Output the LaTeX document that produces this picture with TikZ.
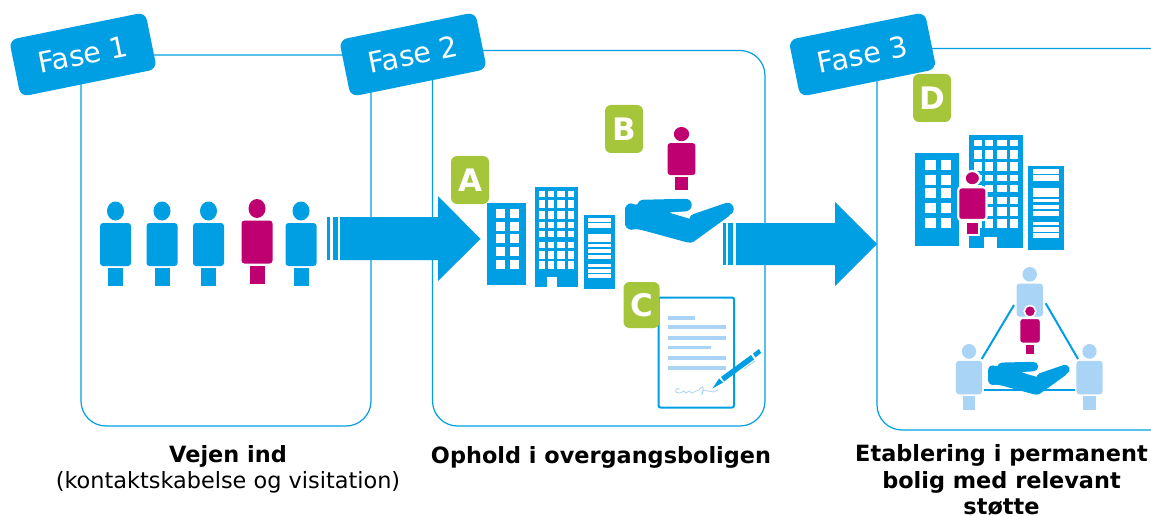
\documentclass[tikz,border=0pt]{standalone}
\usepackage{fontspec}
\setmainfont{DejaVu Sans}
\definecolor{cblue}{HTML}{009FE3}
\definecolor{cmag}{HTML}{BE0071}
\definecolor{cgreen}{HTML}{A5C63B}
\definecolor{clight}{HTML}{AAD4F5}
\tikzset{
  framebox/.style={draw=cblue,line width=1.2pt,rounded corners=25pt},
  fasetag/.style={fill=cblue,text=white,rounded corners=8pt,rotate=11.5,minimum width=139pt,minimum height=58pt,inner sep=0pt,font=\fontsize{28.6}{28.6}\selectfont},
  badge/.style={fill=cgreen,text=white,rounded corners=6pt,inner sep=0pt,font=\bfseries\fontsize{31}{31}\selectfont},
  caption/.style={align=center,font=\fontsize{22.4}{26}\selectfont},
  blockarrow/.style={fill=cblue},
  linkline/.style={draw=cblue,line width=2pt},
  docline/.style={fill=clight},
  plainfig/.style={},
  haloA/.style={draw=white,line width=2.2pt},
  haloB/.style={draw=white,line width=1.6pt},
}
% \personfig{cx}{top}{xscale}{yscale}{colour}{outline style}
\newcommand{\personfig}[6]{%
  \begin{scope}[shift={(#1,#2)},xscale=#3,yscale=#4]
    \path[fill=#5,#6] (0,9.5) ellipse [x radius=8.5,y radius=9.5];
    \path[fill=#5,#6,rounded corners=3pt] (-15.5,21.5) rectangle (15.5,64.5);
    \path[fill=#5,#6] (-7.5,66.5) rectangle (7.5,84.5);
  \end{scope}}
\newcommand{\buildingA}[4]{%
  \begin{scope}[shift={(#1,#2)},xscale=#3,yscale=#4]
    \fill[cblue] (0,0) rectangle (39,82);
    \foreach \ya/\yb in {6/15,19/28,31/40,44/53,57/66}{
      \foreach \xa/\xb in {9/18,23/32}{\fill[white] (\xa,\ya) rectangle (\xb,\yb);}}
  \end{scope}}
\newcommand{\buildingB}[4]{%
  \begin{scope}[shift={(#1,#2)},xscale=#3,yscale=#4]
    \fill[cblue] (0,0) rectangle (43,100);
    \foreach \ya/\yb in {4/10,13/21,24/32,35/41,44/50,55/61,64/72,74/82}{
      \foreach \xa/\xb in {4/10,13/19,22/30,33/39}{\fill[white] (\xa,\ya) rectangle (\xb,\yb);}}
    \fill[white] (12,90) rectangle (22,100);
  \end{scope}}
\newcommand{\buildingC}[4]{%
  \begin{scope}[shift={(#1,#2)},xscale=#3,yscale=#4]
    \fill[cblue] (0,0) rectangle (31,74);
    \foreach \ya/\yb in {3/7,8/13,19/27,29/32,34/38,40/44,49/52,54/58,59/63}{
      \fill[white] (4,\ya) rectangle (27,\yb);}
  \end{scope}}
\newcommand{\handfig}[3]{%
  \begin{scope}[shift={(#1,#2)},scale=#3]
    \fill[cblue,rounded corners=1.5pt] (4,4) -- (11,6) -- (18,2) -- (60,0) -- (63,12) -- (43,13.5) -- (68,21) -- (98,5) -- (105,16) -- (67,43.5) -- (62,43.5) -- (18,31.5) -- (11,30) -- (4,31) -- (-.5,27) -- (-.5,8) -- cycle;
    \draw[cblue,line width=12.5pt*#3,line cap=round] (18,7) -- (60,6);
    \draw[cblue,line width=12.5pt*#3,line cap=round] (70,21) -- (102,10);
    \draw[cblue,line width=12pt*#3,line cap=round] (18,22) -- (64,36);
  \end{scope}}
\begin{document}
\begin{tikzpicture}[x=1pt,y=-1pt]
\useasboundingbox (0,0) rectangle (1151,516);
\clip (0,0) rectangle (1151,516);
\fill[white] (0,0) rectangle (1151,516);
% frames
\draw[framebox] (81,55) rectangle (371,426);
\draw[framebox] (432.5,50.5) rectangle (765,426);
\draw[framebox] (877,48.5) rectangle (1190,430);
% people panel 1
\personfig{115.5}{201.5}{1}{1}{cblue}{plainfig}
\personfig{162}{201.5}{1}{1}{cblue}{plainfig}
\personfig{208.5}{201.5}{1}{1}{cblue}{plainfig}
\personfig{257}{199}{1}{1}{cmag}{plainfig}
\personfig{301}{201.5}{1}{1}{cblue}{plainfig}
% arrow 1
\fill[blockarrow] (327,217) rectangle (330,260);
\fill[blockarrow] (333,217) rectangle (338,260);
\fill[blockarrow] (340,217) -- (438,217) -- (438,196) -- (480.5,239) -- (438,281) -- (438,260) -- (340,260) -- cycle;
% arrow 2
\fill[blockarrow] (723,223) rectangle (726,265);
\fill[blockarrow] (728,223) rectangle (733,265);
\fill[blockarrow] (736,223) -- (835,223) -- (835,202) -- (877,244) -- (835,286) -- (835,265) -- (736,265) -- cycle;
% panel 2
\buildingA{487}{203}{1}{1}
\buildingB{535}{187}{1}{1}
\buildingC{584}{215}{1}{1}
\personfig{681.5}{127}{.9}{.746}{cmag}{plainfig}
\handfig{625.5}{199}{1}
% document
\draw[cblue,line width=2pt,rounded corners=2pt,fill=white] (658.5,297.5) rectangle (734,407.5);
\fill[docline] (668,316) rectangle (695,319.5);
\fill[docline] (668,325) rectangle (726,329);
\fill[docline] (668,336) rectangle (726,339.5);
\fill[docline] (668,345.5) rectangle (711,349);
\fill[docline] (668,356) rectangle (726,359.5);
\fill[docline] (668,366) rectangle (726,369.5);
\draw[clight,line width=.8pt] (680,389) .. controls (674,387) and (674,394) .. (680,393) -- (684,391) -- (686,393) -- (689,391) -- (692,393) -- (696,391) -- (699,390) .. controls (702,386) and (704,385) .. (703,392) .. controls (702,396) and (701,395) .. (703,390) -- (708,391) -- (713,392) -- (718,390);
\fill[cblue] (712.5,388.5) -- (719,378.5) -- (723,382.5) -- cycle;
\fill[cblue] (721,377) -- (751,355) -- (754,359.5) -- (724,381.5) -- cycle;
\fill[cblue] (753,353.5) -- (759,349) -- (761,353) -- (755.5,357.5) -- cycle;
\draw[clight,line width=.8pt] (744,369) -- (755,361);
% panel 3
\buildingA{915}{153}{1.14}{1.134}
\buildingB{969}{135}{1.25}{1.13}
\buildingC{1028}{166}{1.16}{1.135}
\personfig{972.3}{171}{.91}{.76}{cmag}{haloA}
% triangle
\coordinate (topL) at (1014,305);
\coordinate (topR) at (1045.7,303.3);
\coordinate (leftT) at (981.7,359);
\coordinate (rightT) at (1078,359);
\coordinate (leftB) at (984.3,390.3);
\coordinate (rightB) at (1075,390.3);
\draw[linkline] (leftT) -- (topL);
\draw[linkline] (topR) -- (rightT);
\draw[linkline] (leftB) -- (rightB);
\personfig{1029.7}{267}{.85}{.77}{clight}{plainfig}
\personfig{969}{344}{.84}{.78}{clight}{plainfig}
\personfig{1089.5}{344}{.84}{.78}{clight}{plainfig}
\personfig{1030}{305.7}{.68}{.585}{cmag}{haloB}
\handfig{988.5}{362}{.75}
% tags
\node[fasetag] (fase1) at (83,54.5) {Fase 1};
\node[fasetag] (fase2) at (413,54.5) {Fase 2};
\node[fasetag] (fase3) at (862.5,54.5) {Fase 3};
% badges
\node[badge,minimum width=38pt,minimum height=48pt] (badgeA) at (470,180) {A};
\node[badge,minimum width=38pt,minimum height=48pt] (badgeB) at (624,129) {B};
\node[badge,minimum width=36pt,minimum height=46pt] (badgeC) at (641.5,305) {C};
\node[badge,minimum width=38pt,minimum height=48pt] (badgeD) at (932,98) {D};
% captions
\node[caption] (cap1) at (228,469) {\textbf{Vejen ind}\\(kontaktskabelse og visitation)};
\node[caption] (cap2) at (601,457) {\textbf{Ophold i overgangsboligen}};
\node[caption] (cap3) at (1001.5,480) {\textbf{Etablering i permanent}\\\textbf{bolig med relevant}\\\textbf{støtte}};
\end{tikzpicture}
\end{document}
